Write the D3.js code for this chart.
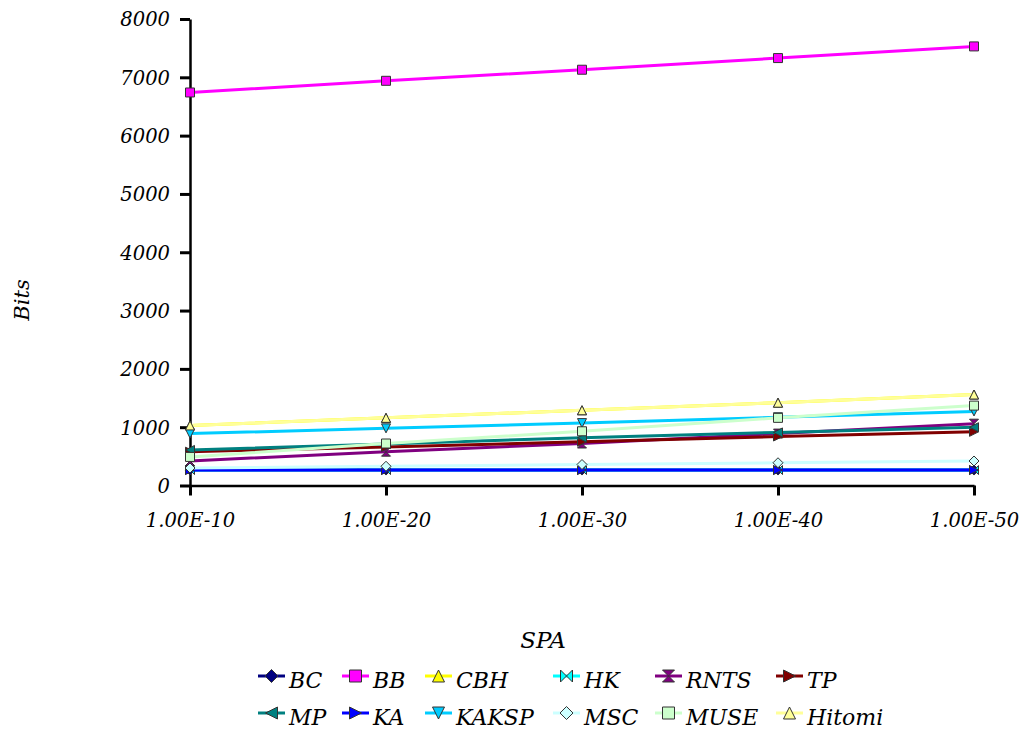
<!DOCTYPE html>
<html>
<head>
<meta charset="utf-8">
<script src="https://cdn.jsdelivr.net/npm/d3@7"></script>
<style>
  body { margin: 0; background: #fff; }
  svg text { font-family: "DejaVu Serif", serif; font-style: italic; fill: #000; }
</style>
</head>
<body>
<svg id="chart" width="1022" height="731"></svg>
<script>
// data
const categories = ['1.00E-10', '1.00E-20', '1.00E-30', '1.00E-40', '1.00E-50'];
const yTicks = [0, 1000, 2000, 3000, 4000, 5000, 6000, 7000, 8000];

const BC = [265, 265, 265, 265, 265];
const BB = [6740, 6940, 7130, 7330, 7530];
const CBH = [1030, 1160, 1290, 1420, 1560];
const HK = [265, 265, 265, 265, 265];
const RNTS = [420, 580, 720, 890, 1060];
const TP = [580, 660, 750, 840, 920];
const MP = [610, 710, 820, 910, 1000];
const KA = [265, 265, 265, 265, 265];
const KAKSP = [890, 980, 1070, 1170, 1270];
const MSC = [300, 330, 360, 390, 420];
const MUSE = [490, 720, 930, 1160, 1370];
const Hitomi = [1030, 1160, 1290, 1420, 1560];

const series = [
  { name: 'BC', values: BC, color: '#000080', shape: 'diamond' },
  { name: 'BB', values: BB, color: '#ff00ff', shape: 'square' },
  { name: 'CBH', values: CBH, color: '#ffff00', shape: 'triUp' },
  { name: 'HK', values: HK, color: '#00ffff', shape: 'bowtie' },
  { name: 'RNTS', values: RNTS, color: '#800080', shape: 'hourglass' },
  { name: 'TP', values: TP, color: '#800000', shape: 'triRight' },
  { name: 'MP', values: MP, color: '#008080', shape: 'triLeft' },
  { name: 'KA', values: KA, color: '#0000ff', shape: 'triRight' },
  { name: 'KAKSP', values: KAKSP, color: '#00ccff', shape: 'triDown' },
  { name: 'MSC', values: MSC, color: '#ccffff', shape: 'diamond' },
  { name: 'MUSE', values: MUSE, color: '#ccffcc', shape: 'square' },
  { name: 'Hitomi', values: Hitomi, color: '#ffff99', shape: 'triUp' }
];

function markerPath(shape, h) {
  switch (shape) {
    case 'diamond': return `M0,${-h-0.5}L${h+0.5},0L0,${h+0.5}L${-h-0.5},0Z`;
    case 'square': return `M${-h},${-h}H${h}V${h}H${-h}Z`;
    case 'triUp': return `M0,${-h}L${h},${h}L${-h},${h}Z`;
    case 'triDown': return `M0,${h}L${h},${-h}L${-h},${-h}Z`;
    case 'triRight': return `M${h},0L${-h},${-h}L${-h},${h}Z`;
    case 'triLeft': return `M${-h},0L${h},${-h}L${h},${h}Z`;
    case 'bowtie': return `M${-h},${-h}L0,0L${-h},${h}ZM${h},${-h}L0,0L${h},${h}Z`;
    case 'hourglass': return `M${-h},${-h}L${h},${-h}L0,0ZM${-h},${h}L${h},${h}L0,0Z`;
  }
}

const svg = d3.select('#chart');

const x = d3.scalePoint().domain(categories).range([190, 974]);
const y = d3.scaleLinear().domain([0, 8000]).range([485.5, 19]);

// y axis
const yAxis = svg.append('g')
  .attr('transform', 'translate(190,0)')
  .call(d3.axisLeft(y).tickValues(yTicks).tickSize(10).tickSizeOuter(0).tickPadding(10).tickFormat(d3.format('d')));
yAxis.select('.domain').attr('stroke', '#000').attr('stroke-width', 2.5);
yAxis.selectAll('.tick line').attr('stroke', '#000').attr('stroke-width', 3);
yAxis.selectAll('.tick text').attr('font-size', 19.5).attr('dy', '0.35em');
yAxis.attr('font-family', null);

// x axis
const xAxis = svg.append('g')
  .attr('transform', 'translate(0,485.5)')
  .call(d3.axisBottom(x).tickSize(10).tickSizeOuter(0).tickPadding(18));
xAxis.select('.domain').attr('stroke', '#000').attr('stroke-width', 2.5);
xAxis.selectAll('.tick line').attr('stroke', '#000').attr('stroke-width', 3);
xAxis.selectAll('.tick text').attr('font-size', 19.5);
xAxis.attr('font-family', null);

// lines + markers
const line = d3.line()
  .x((d, i) => x(categories[i]))
  .y(d => y(d));

series.forEach(s => {
  const g = svg.append('g');
  g.append('path')
    .attr('d', line(s.values))
    .attr('fill', 'none')
    .attr('stroke', s.color)
    .attr('stroke-width', 3);
  g.selectAll('path.m')
    .data(s.values)
    .enter()
    .append('path')
    .attr('class', 'm')
    .attr('d', markerPath(s.shape, 4.5))
    .attr('transform', (d, i) => `translate(${x(categories[i])},${y(d)})`)
    .attr('fill', s.color)
    .attr('stroke', '#333')
    .attr('stroke-width', 1);
});

// axis titles
svg.append('text')
  .attr('transform', 'translate(29,300) rotate(-90)')
  .attr('text-anchor', 'middle')
  .attr('font-size', 21)
  .text('Bits');

svg.append('text')
  .attr('x', 543).attr('y', 648)
  .attr('text-anchor', 'middle')
  .attr('font-size', 23)
  .text('SPA');

// legend
const legendCols = [258, 342, 425, 553, 655, 776];
const legendRows = [676, 713];

const legend = svg.selectAll('g.legend')
  .data(series)
  .enter()
  .append('g')
  .attr('class', 'legend')
  .attr('transform', (d, i) => `translate(${legendCols[i % 6]},${legendRows[Math.floor(i / 6)]})`);

legend.append('line')
  .attr('x1', 0).attr('x2', 27)
  .attr('stroke', d => d.color)
  .attr('stroke-width', 3);

legend.append('path')
  .attr('d', d => markerPath(d.shape, 6))
  .attr('transform', 'translate(13.5,0)')
  .attr('fill', d => d.color)
  .attr('stroke', '#333')
  .attr('stroke-width', 1);

legend.append('text')
  .attr('x', 31).attr('y', 12)
  .attr('font-size', 22)
  .text(d => d.name);
</script>
</body>
</html>
